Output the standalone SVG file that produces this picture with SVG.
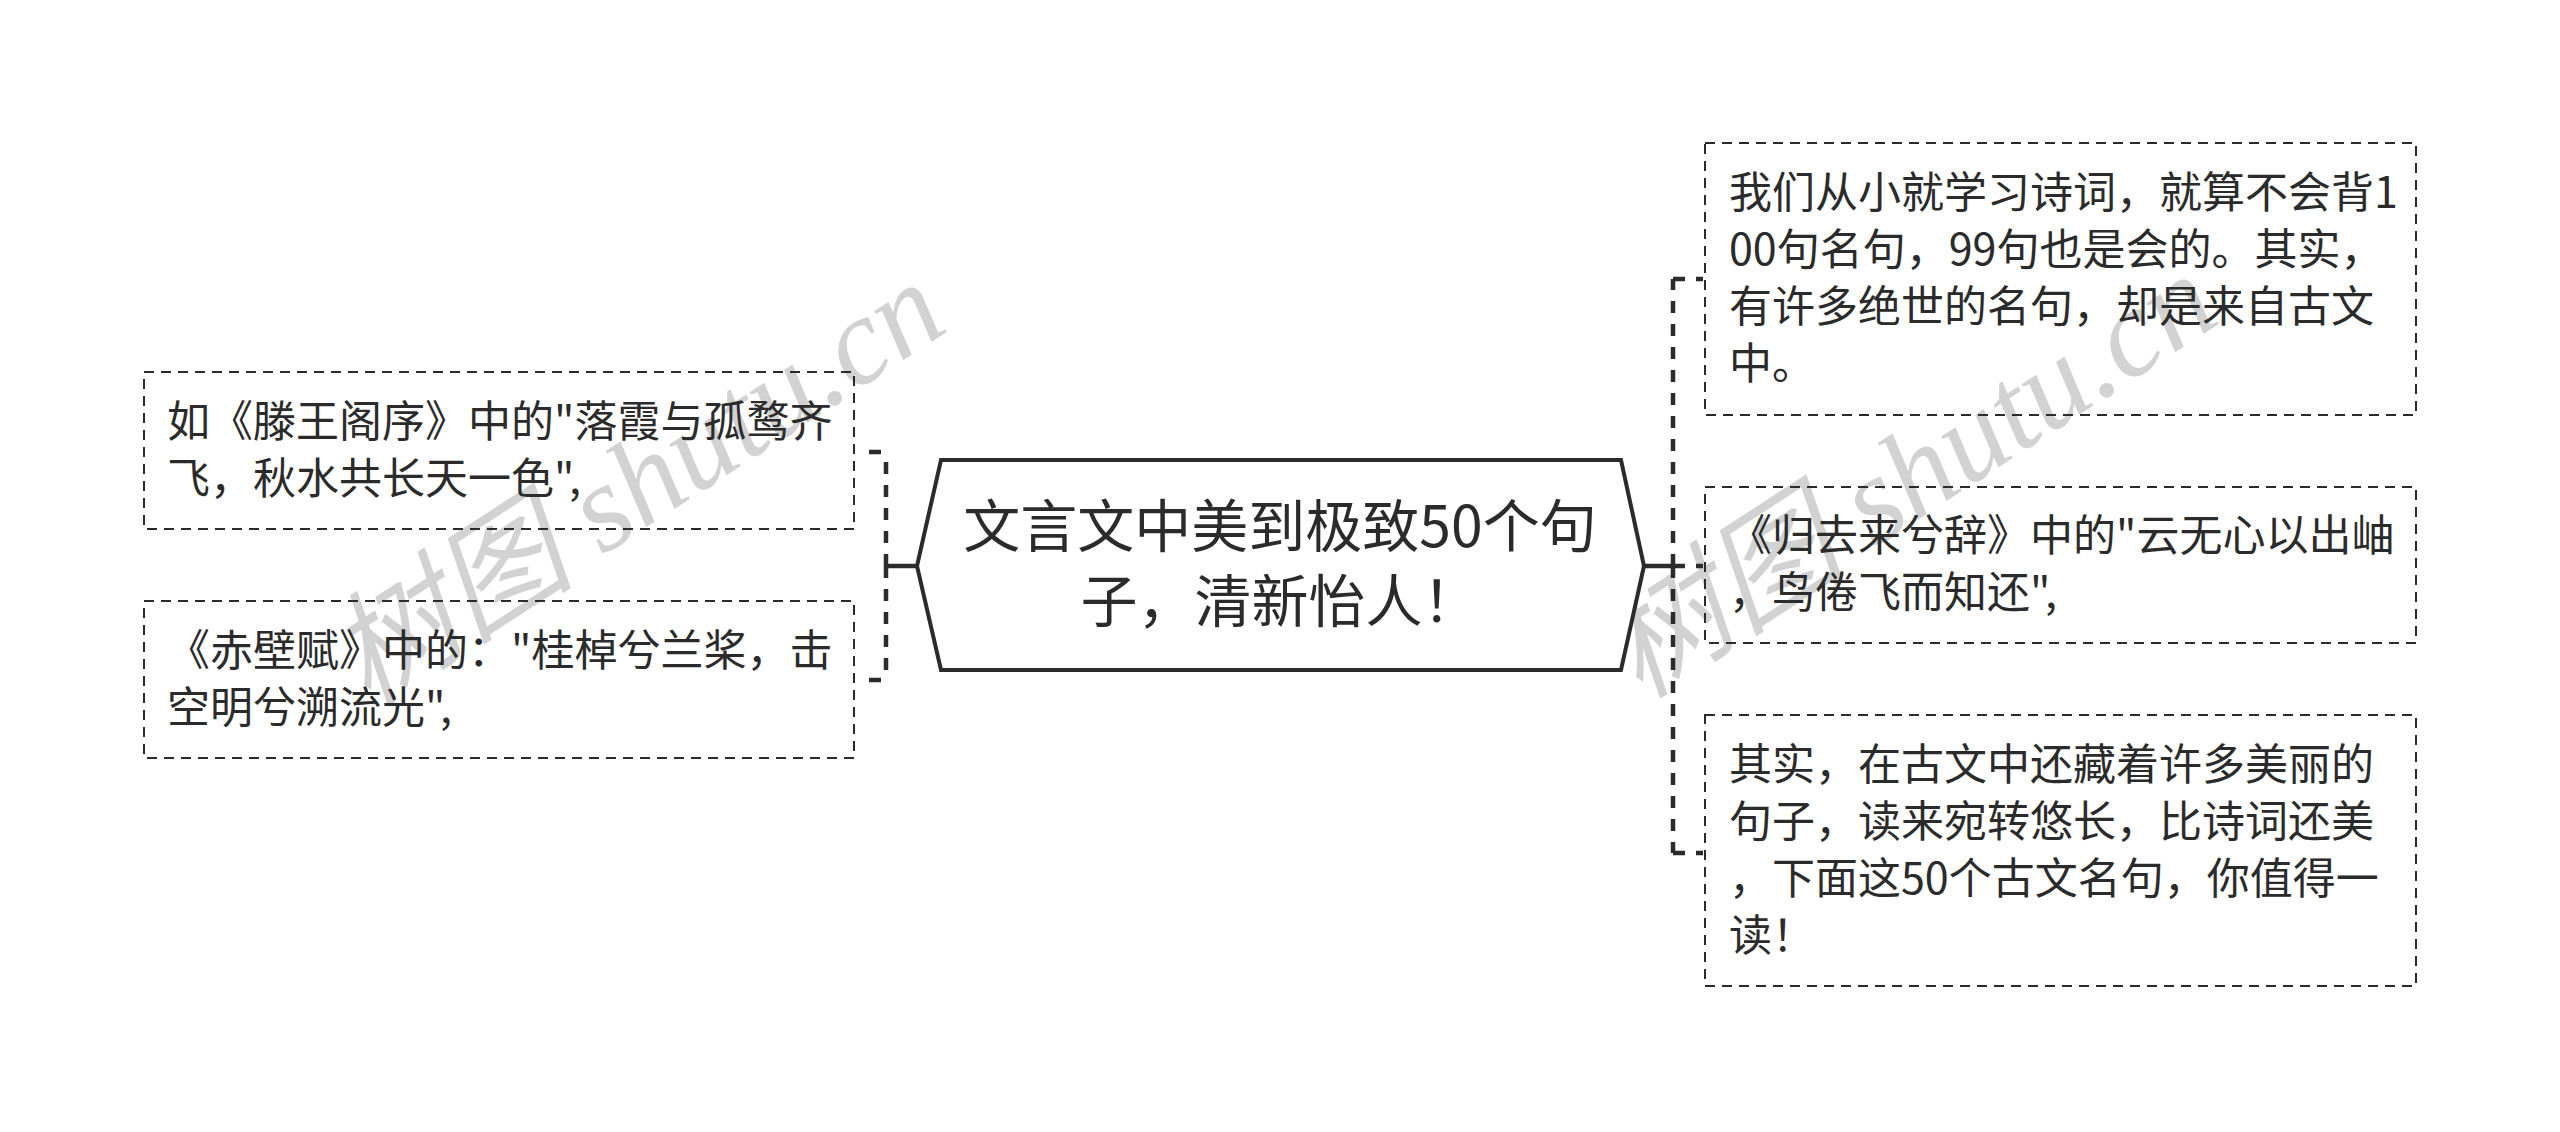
<svg xmlns="http://www.w3.org/2000/svg" width="2560" height="1132" viewBox="0 0 2560 1132">
<style>
.bg{fill:#ffffff}
.wm{fill:#d2d2d2;font-family:"Liberation Serif","Noto Sans CJK SC",serif;font-style:italic;font-size:124px}
.box{fill:none;stroke:#2b2b2b;stroke-width:2;stroke-dasharray:10 7}
.hex{fill:#ffffff;stroke:#2b2b2b;stroke-width:4;stroke-linejoin:miter}
.txt{fill:#2b2b2b;font-family:"Noto Sans CJK SC","Noto Sans CJK JP",sans-serif;font-size:43px}
.ctxt{fill:#2b2b2b;font-family:"Noto Sans CJK SC","Noto Sans CJK JP",sans-serif;font-size:57px;text-anchor:middle}
.link{fill:none;stroke:#2b2b2b;stroke-width:4.5;stroke-dasharray:12 11}
.solid{fill:none;stroke:#2b2b2b;stroke-width:4.5}
</style>
<rect class="bg" x="0" y="0" width="2560" height="1132"/>
<g id="watermark">
<text class="wm" transform="translate(368,708) rotate(-33)">树图 shutu.cn</text>
<text class="wm" transform="translate(1640,700) rotate(-33)">树图 shutu.cn</text>
</g>
<g id="connectors">
<path class="solid" d="M917,566 H886"/>
<path class="link" d="M886,566 V452"/>
<path class="link" d="M886,566 V680"/>
<path class="link" d="M869,452 H886"/>
<path class="link" d="M869,680 H886"/>
<path class="solid" d="M1644,566 H1673"/>
<path class="link" d="M1673,566 V279"/>
<path class="link" d="M1673,566 V853"/>
<path class="link" d="M1673,279 H1703"/>
<path class="link" d="M1673,566 H1703"/>
<path class="link" d="M1673,853 H1703"/>
</g>
<g id="root">
<polygon class="hex" points="917,566 941,460 1621,460 1644,566 1621,670 941,670"/>
<text class="ctxt" x="1280" y="547">文言文中美到极致50个句</text>
<text class="ctxt" x="1280" y="622">子，清新怡人！</text>
</g>
<g id="left1">
<rect class="box" x="144" y="372" width="710" height="157"/>
<text class="txt" x="167" y="437">如《滕王阁序》中的"落霞与孤鹜齐</text>
<text class="txt" x="167" y="494">飞，秋水共长天一色",</text>
</g>
<g id="left2">
<rect class="box" x="144" y="601" width="710" height="157"/>
<text class="txt" x="167" y="666">《赤壁赋》中的："桂棹兮兰桨，击</text>
<text class="txt" x="167" y="723">空明兮溯流光",</text>
</g>
<g id="right1">
<rect class="box" x="1705" y="143" width="711" height="272"/>
<text class="txt" x="1729" y="208">我们从小就学习诗词，就算不会背1</text>
<text class="txt" x="1729" y="265">00句名句，99句也是会的。其实，</text>
<text class="txt" x="1729" y="322">有许多绝世的名句，却是来自古文</text>
<text class="txt" x="1729" y="379">中。</text>
</g>
<g id="right2">
<rect class="box" x="1705" y="487" width="711" height="156"/>
<text class="txt" x="1729" y="551">《归去来兮辞》中的"云无心以出岫</text>
<text class="txt" x="1729" y="608">，鸟倦飞而知还",</text>
</g>
<g id="right3">
<rect class="box" x="1705" y="715" width="711" height="271"/>
<text class="txt" x="1729" y="780">其实，在古文中还藏着许多美丽的</text>
<text class="txt" x="1729" y="837">句子，读来宛转悠长，比诗词还美</text>
<text class="txt" x="1729" y="894">，下面这50个古文名句，你值得一</text>
<text class="txt" x="1729" y="951">读！</text>
</g>
</svg>
